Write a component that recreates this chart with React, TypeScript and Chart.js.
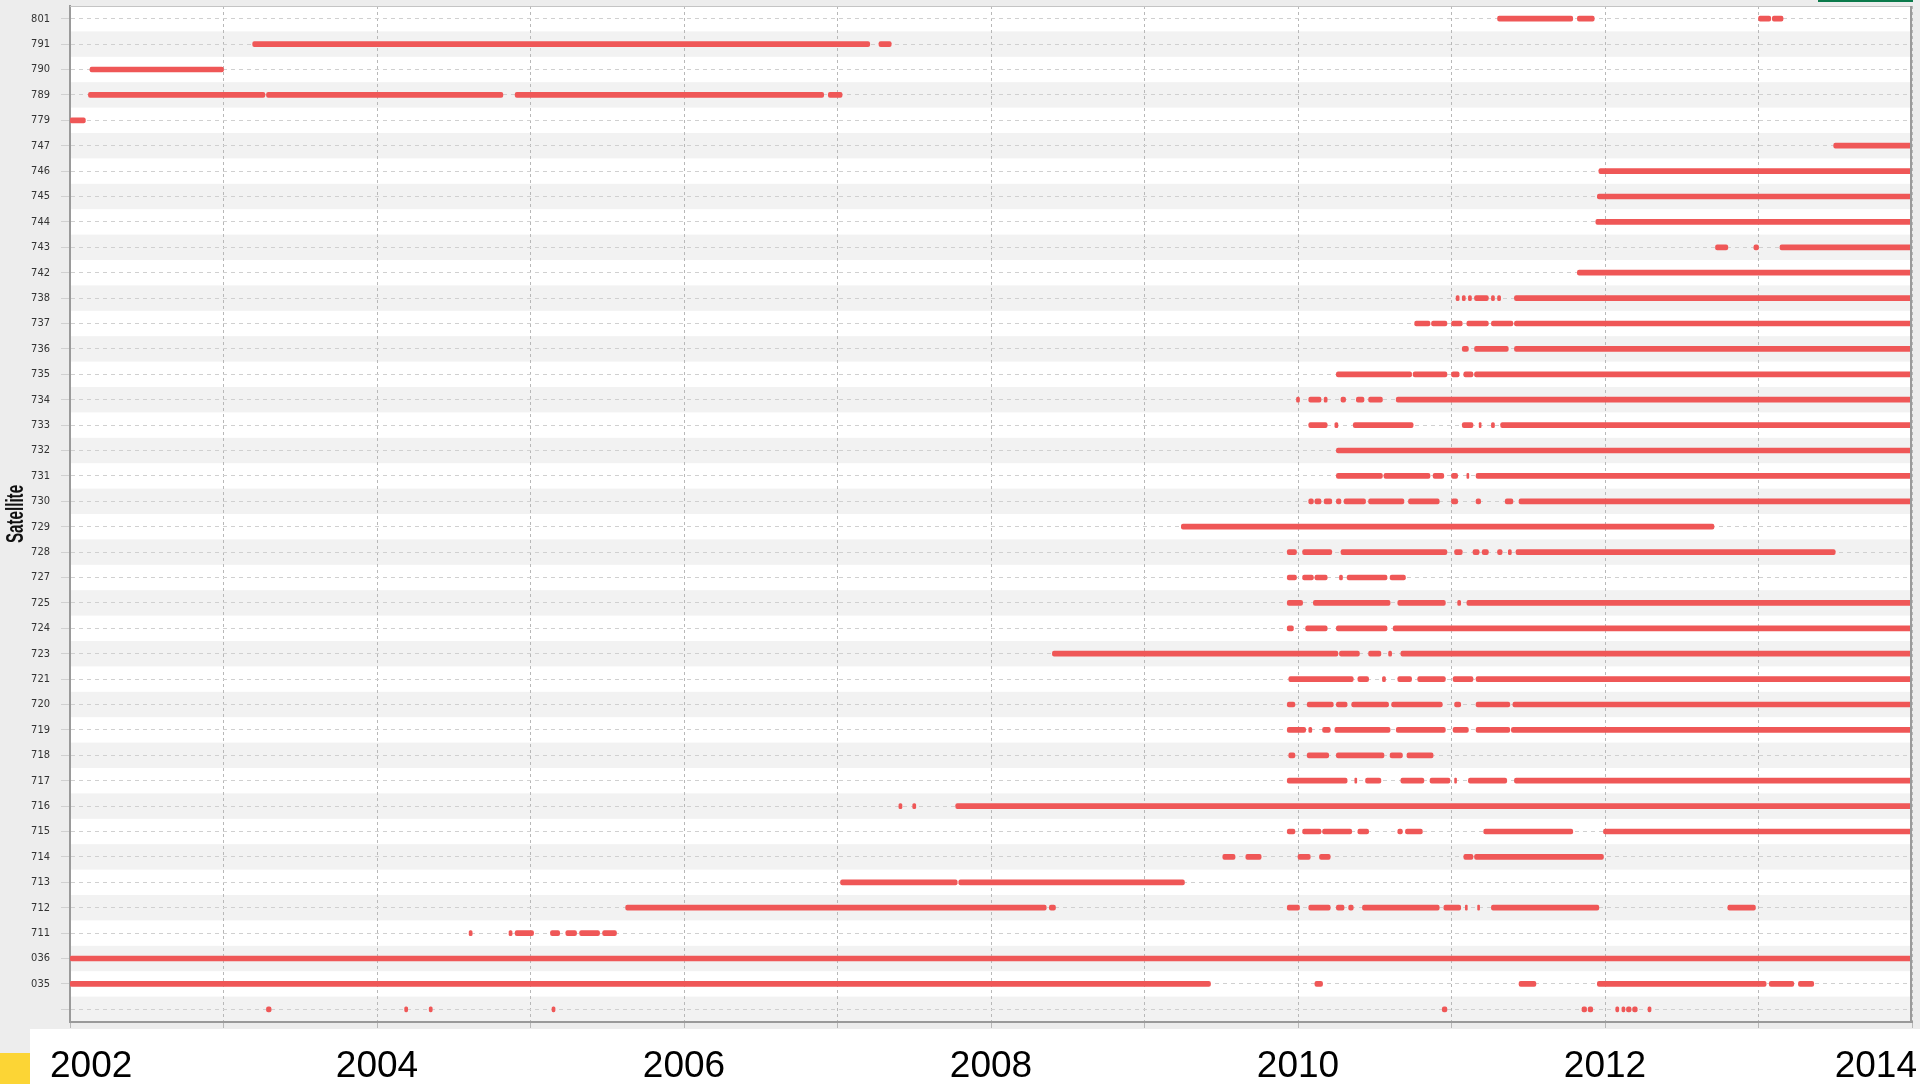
import React, { useEffect, useRef } from 'react';
import { Chart, registerables } from 'chart.js';

Chart.register(...registerables);

type Seg = [number, number];

const satellites: string[] = [
  '801', '791', '790', '789', '779', '747', '746', '745', '744', '743', '742', '738', '737', '736',
  '735', '734', '733', '732', '731', '730', '729', '728', '727', '725', '724', '723', '721', '720',
  '719', '718', '717', '716', '715', '714', '713', '712', '711', '036', '035', '',
];

const s801: Seg[] = [[2011.3, 2011.79], [2011.82, 2011.93], [2013.0, 2013.08], [2013.09, 2013.16]];
const s791: Seg[] = [[2003.19, 2007.21], [2007.27, 2007.35]];
const s790: Seg[] = [[2002.13, 2003.0]];
const s789: Seg[] = [[2002.12, 2003.27], [2003.28, 2004.82], [2004.9, 2006.91], [2006.94, 2007.03]];
const s779: Seg[] = [[2002.0, 2002.1]];
const s747: Seg[] = [[2013.49, 2014]];
const s746: Seg[] = [[2011.96, 2014]];
const s745: Seg[] = [[2011.95, 2014]];
const s744: Seg[] = [[2011.94, 2014]];
const s743: Seg[] = [[2012.72, 2012.8], [2012.97, 2013.0], [2013.14, 2014]];
const s742: Seg[] = [[2011.82, 2014]];
const s738: Seg[] = [[2011.03, 2011.05], [2011.07, 2011.09], [2011.11, 2011.13], [2011.15, 2011.24], [2011.26, 2011.28], [2011.3, 2011.32], [2011.41, 2014]];
const s737: Seg[] = [[2010.76, 2010.86], [2010.87, 2010.97], [2011.0, 2011.07], [2011.1, 2011.24], [2011.26, 2011.4], [2011.41, 2014]];
const s736: Seg[] = [[2011.07, 2011.11], [2011.15, 2011.37], [2011.41, 2014]];
const s735: Seg[] = [[2010.25, 2010.74], [2010.75, 2010.97], [2011.0, 2011.05], [2011.08, 2011.14], [2011.15, 2014]];
const s734: Seg[] = [[2009.99, 2010.01], [2010.07, 2010.15], [2010.17, 2010.19], [2010.28, 2010.31], [2010.38, 2010.43], [2010.46, 2010.55], [2010.64, 2014]];
const s733: Seg[] = [[2010.07, 2010.19], [2010.24, 2010.26], [2010.36, 2010.75], [2011.07, 2011.14], [2011.18, 2011.19], [2011.26, 2011.28], [2011.32, 2014]];
const s732: Seg[] = [[2010.25, 2014]];
const s731: Seg[] = [[2010.25, 2010.55], [2010.56, 2010.86], [2010.88, 2010.95], [2011.0, 2011.04], [2011.1, 2011.11], [2011.16, 2014]];
const s730: Seg[] = [[2010.07, 2010.1], [2010.11, 2010.15], [2010.17, 2010.22], [2010.25, 2010.28], [2010.3, 2010.44], [2010.46, 2010.69], [2010.72, 2010.92], [2011.0, 2011.04], [2011.16, 2011.19], [2011.35, 2011.4], [2011.44, 2014]];
const s729: Seg[] = [[2009.24, 2012.71]];
const s728: Seg[] = [[2009.93, 2009.99], [2010.03, 2010.22], [2010.28, 2010.97], [2011.02, 2011.07], [2011.14, 2011.18], [2011.2, 2011.24], [2011.3, 2011.33], [2011.37, 2011.39], [2011.42, 2013.5]];
const s727: Seg[] = [[2009.93, 2009.99], [2010.03, 2010.1], [2010.11, 2010.19], [2010.27, 2010.29], [2010.32, 2010.58], [2010.6, 2010.7]];
const s725: Seg[] = [[2009.93, 2010.03], [2010.1, 2010.6], [2010.65, 2010.96], [2011.04, 2011.06], [2011.1, 2014]];
const s724: Seg[] = [[2009.93, 2009.97], [2010.05, 2010.19], [2010.25, 2010.58], [2010.62, 2014]];
const s723: Seg[] = [[2008.4, 2010.26], [2010.27, 2010.4], [2010.46, 2010.54], [2010.59, 2010.61], [2010.67, 2014]];
const s721: Seg[] = [[2009.94, 2010.36], [2010.39, 2010.46], [2010.55, 2010.57], [2010.65, 2010.74], [2010.78, 2010.96], [2011.01, 2011.14], [2011.16, 2014]];
const s720: Seg[] = [[2009.93, 2009.98], [2010.06, 2010.23], [2010.25, 2010.32], [2010.35, 2010.59], [2010.61, 2010.94], [2011.02, 2011.06], [2011.16, 2011.38], [2011.4, 2014]];
const s719: Seg[] = [[2009.93, 2010.05], [2010.07, 2010.09], [2010.16, 2010.21], [2010.24, 2010.6], [2010.64, 2010.96], [2011.01, 2011.11], [2011.16, 2011.38], [2011.39, 2014]];
const s718: Seg[] = [[2009.94, 2009.98], [2010.06, 2010.2], [2010.25, 2010.56], [2010.6, 2010.68], [2010.71, 2010.88]];
const s717: Seg[] = [[2009.93, 2010.32], [2010.37, 2010.38], [2010.44, 2010.54], [2010.67, 2010.82], [2010.86, 2010.99], [2011.02, 2011.03], [2011.11, 2011.36], [2011.41, 2014]];
const s716: Seg[] = [[2007.4, 2007.42], [2007.49, 2007.51], [2007.77, 2014]];
const s715: Seg[] = [[2009.93, 2009.98], [2010.03, 2010.15], [2010.16, 2010.35], [2010.39, 2010.46], [2010.65, 2010.68], [2010.7, 2010.81], [2011.21, 2011.79], [2011.99, 2014]];
const s714: Seg[] = [[2009.51, 2009.59], [2009.66, 2009.76], [2010.0, 2010.08], [2010.14, 2010.21], [2011.08, 2011.14], [2011.15, 2011.99]];
const s713: Seg[] = [[2007.02, 2007.78], [2007.79, 2009.26]];
const s712: Seg[] = [[2005.62, 2008.36], [2008.38, 2008.42], [2009.93, 2010.01], [2010.07, 2010.21], [2010.25, 2010.3], [2010.33, 2010.36], [2010.42, 2010.92], [2010.95, 2011.06], [2011.09, 2011.1], [2011.17, 2011.18], [2011.26, 2011.96], [2012.8, 2012.98]];
const s711: Seg[] = [[2004.6, 2004.62], [2004.86, 2004.88], [2004.9, 2005.02], [2005.13, 2005.19], [2005.23, 2005.3], [2005.32, 2005.45], [2005.47, 2005.56]];
const s036: Seg[] = [[2002.0, 2014]];
const s035: Seg[] = [[2002.0, 2009.43], [2010.11, 2010.16], [2011.44, 2011.55], [2011.95, 2013.05], [2013.07, 2013.23], [2013.26, 2013.36]];
const sBlank: Seg[] = [[2003.28, 2003.31], [2004.18, 2004.2], [2004.34, 2004.36], [2005.14, 2005.16], [2010.94, 2010.97], [2011.85, 2011.88], [2011.89, 2011.92], [2012.07, 2012.09], [2012.11, 2012.13], [2012.14, 2012.17], [2012.18, 2012.21], [2012.28, 2012.3], [2013.99, 2014]];

const segmentsByRow: Seg[][] = [
  s801, s791, s790, s789, s779, s747, s746, s745, s744, s743, s742, s738, s737, s736,
  s735, s734, s733, s732, s731, s730, s729, s728, s727, s725, s724, s723, s721, s720,
  s719, s718, s717, s716, s715, s714, s713, s712, s711, s036, s035, sBlank,
];

const yearLabels: string[] = ['2002', '2004', '2006', '2008', '2010', '2012', '2014'];
const axisTitle = 'Satellite';
const xMin = 2002;
const xMax = 2014;

const NARROW = '"Liberation Sans Narrow", "DejaVu Sans Condensed", "Liberation Sans", sans-serif';

const decorPlugin = {
  id: 'decor',
  beforeDraw(chart: any) {
    const { ctx, chartArea: a, width, height } = chart;
    const y = chart.scales.y;
    ctx.save();
    ctx.fillStyle = '#ededed';
    ctx.fillRect(0, 0, width, height);
    ctx.fillStyle = '#ffffff';
    ctx.fillRect(a.left, a.top, a.right - a.left, a.bottom - a.top);
    const band = (a.bottom - a.top) / satellites.length;
    ctx.fillStyle = '#f2f2f2';
    satellites.forEach((_s, i) => {
      if (i % 2 === 1) {
        const c = y.getPixelForValue(i);
        ctx.fillRect(a.left, c - band / 2, a.right - a.left, band);
      }
    });
    ctx.restore();
  },
  afterDraw(chart: any) {
    const { ctx, chartArea: a, width, height } = chart;
    const x = chart.scales.x;
    ctx.save();
    // top and right frame
    ctx.strokeStyle = '#c4c4c4';
    ctx.lineWidth = 1;
    ctx.beginPath();
    ctx.moveTo(a.left, a.top + 0.5);
    ctx.lineTo(a.right, a.top + 0.5);
    ctx.stroke();
    ctx.strokeStyle = '#9a9a9a';
    ctx.lineWidth = 2;
    ctx.beginPath();
    ctx.moveTo(a.right - 1, a.top);
    ctx.lineTo(a.right - 1, a.bottom);
    ctx.stroke();
    // condensed bold axis title
    ctx.save();
    ctx.translate(23, (a.top + a.bottom) / 2);
    ctx.rotate(-Math.PI / 2);
    ctx.scale(0.66, 1);
    ctx.font = 'bold 23px "Liberation Sans", Arial, sans-serif';
    ctx.fillStyle = '#111111';
    ctx.textAlign = 'center';
    ctx.textBaseline = 'alphabetic';
    ctx.fillText(axisTitle, 0, 0);
    ctx.restore();
    // white strip with big year labels
    const stripTop = a.bottom + 7;
    ctx.fillStyle = '#ffffff';
    ctx.fillRect(30, stripTop, width - 30, height - stripTop);
    ctx.fillStyle = '#fcd535';
    ctx.fillRect(0, stripTop + 24, 30, height - stripTop - 24);
    ctx.fillStyle = '#0b7a4b';
    ctx.fillRect(1818, 0, 95, 2);
    ctx.font = '37px "Liberation Sans", Arial, sans-serif';
    ctx.fillStyle = '#000000';
    ctx.textAlign = 'center';
    ctx.textBaseline = 'alphabetic';
    yearLabels.forEach((lbl) => {
      const px = x.getPixelForValue(Number(lbl));
      const w = ctx.measureText(lbl).width;
      const cx = Math.min(Math.max(px, 50 + w / 2), width - 3 - w / 2);
      ctx.fillText(lbl, cx, a.bottom + 55);
    });
    ctx.restore();
  },
};

export default function App() {
  const canvasRef = useRef<HTMLCanvasElement | null>(null);

  useEffect(() => {
    const canvas = canvasRef.current;
    if (!canvas) return;
    const points = satellites.flatMap((lab, i) =>
      segmentsByRow[i].map(([s, e]) => ({ y: lab, x: [s, e] }))
    );
    const chart = new Chart(canvas, {
      type: 'bar',
      data: {
        labels: satellites,
        datasets: [
          {
            data: points as any,
            backgroundColor: '#ef5757',
            barThickness: 5,
            borderWidth: 0,
            borderRadius: 2,
            borderSkipped: false,
            minBarLength: 2,
          } as any,
        ],
      },
      options: {
        responsive: false,
        animation: false,
        indexAxis: 'y',
        devicePixelRatio: 1,
        layout: { padding: { top: 0, right: 8, left: 0, bottom: 0 } },
        plugins: { legend: { display: false }, tooltip: { enabled: false } },
        scales: {
          x: {
            type: 'linear',
            min: xMin,
            max: xMax,
            position: 'bottom',
            ticks: { stepSize: 1, display: false },
            grid: { color: '#b8b8b8', lineWidth: 1, tickLength: 6, drawTicks: true },
            border: { display: true, color: '#9a9a9a', width: 2, dash: [3, 3] },
            afterFit: (s: any) => {
              s.height = 62;
              s.paddingLeft = 0;
              s.paddingRight = 0;
            },
          },
          y: {
            type: 'category',
            labels: satellites,
            offset: true,
            ticks: {
              autoSkip: false,
              font: { family: NARROW, size: 11 },
              color: '#333333',
              padding: 11,
            },
            grid: { offset: false, color: '#d0d0d0', lineWidth: 1, tickLength: 9 },
            border: { display: true, color: '#9a9a9a', width: 2, dash: [4, 4] },
            title: { display: false },
            afterFit: (s: any) => {
              s.width = 70;
              s.paddingTop = 6;
              s.paddingBottom = 0;
            },
          },
        },
      } as any,
      plugins: [decorPlugin],
    });
    return () => chart.destroy();
  }, []);

  return (
    <div style={{ position: 'fixed', left: 0, top: 0, width: 1920, height: 1084 }}>
      <canvas ref={canvasRef} width={1920} height={1084} style={{ display: 'block' }} />
    </div>
  );
}
